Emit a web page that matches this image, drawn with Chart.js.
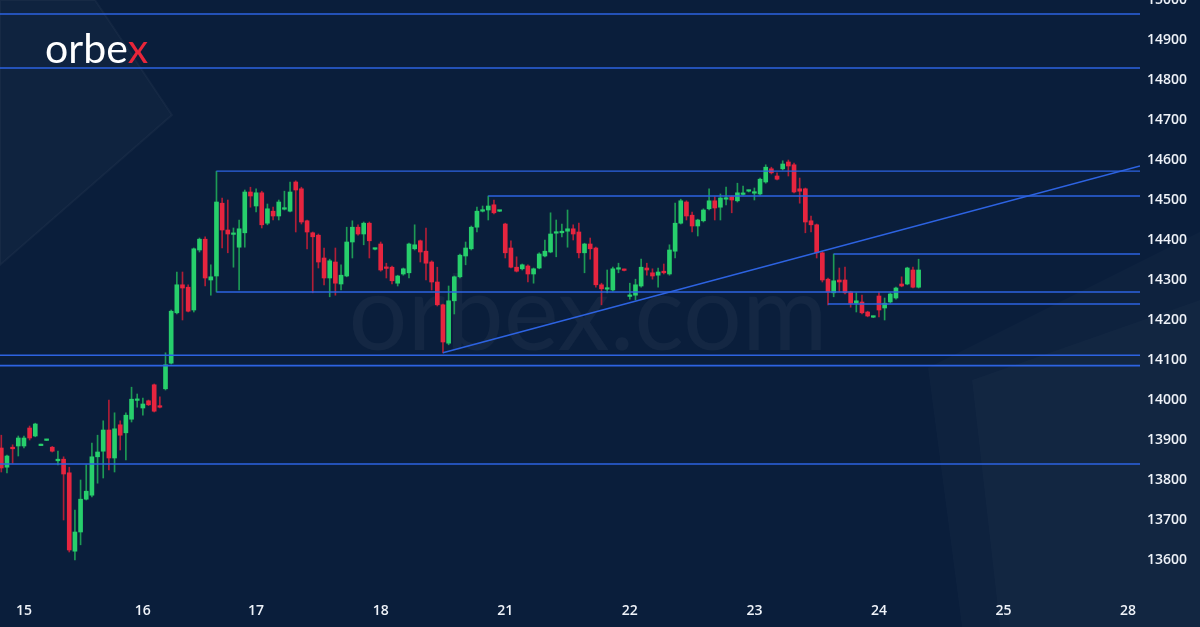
<!DOCTYPE html>
<html>
<head>
<meta charset="utf-8">
<script src="https://cdn.jsdelivr.net/npm/chart.js@4.4.1/dist/chart.umd.min.js"></script>
<title>orbex hourly</title>
<style>
  html, body { margin: 0; padding: 0; background: #0a1e3b; }
</style>
</head>
<body>
<canvas id="chart" width="1200" height="627"></canvas>
<script>
// hourly candles, index 0..162 (22 per session)
const opens = [13880,13832,13882,13885,13885,13930,13910,13886,13899,13882,13848,13852,13818,13622,13670,13752,13762,13858,13872,13925,
  13855,13938,13918,13952,13999,13980,13998,14038,13985,14028,14092,14218,14288,14282,14225,14375,14402,14300,14310,14492,
  14425,14414,14382,14418,14520,14485,14518,14442,14472,14460,14477,14472,14545,14528,14448,14418,14412,14355,14305,14345,
  14290,14310,14395,14432,14415,14442,14377,14390,14331,14332,14292,14315,14318,14378,14398,14372,14345,14295,14238,14142,
  14248,14308,14360,14378,14432,14472,14475,14488,14472,14440,14380,14332,14328,14335,14315,14330,14360,14370,14417,14418,
  14422,14428,14420,14368,14390,14380,14288,14277,14275,14327,14326,14259,14262,14285,14330,14318,14312,14322,14315,14372,
  14442,14495,14462,14435,14448,14478,14498,14482,14502,14508,14498,14514,14522,14517,14515,14545,14578,14560,14578,14595,
  14588,14528,14528,14448,14438,14368,14302,14268,14300,14300,14270,14242,14245,14220,14207,14260,14230,14245,14255,14290,
  14290,14325,14282];
const highs = [13912,13862,13888,13910,13910,13935,13942,13890,13902,13884,13872,13858,13832,13725,13800,13838,13892,13912,13948,14000,
  13968,13948,13968,14032,14015,14005,14000,14040,14008,14118,14225,14320,14320,14288,14380,14405,14408,14338,14572,14505,
  14500,14430,14450,14525,14532,14528,14522,14490,14482,14500,14522,14545,14548,14532,14450,14420,14415,14380,14352,14380,
  14338,14432,14448,14438,14445,14445,14380,14395,14342,14335,14312,14330,14392,14438,14400,14430,14348,14332,14240,14285,
  14310,14365,14395,14435,14482,14485,14510,14500,14474,14442,14398,14358,14340,14338,14330,14368,14400,14468,14450,14440,
  14475,14438,14442,14392,14405,14382,14292,14325,14332,14342,14327,14292,14302,14352,14342,14328,14330,14340,14388,14492,
  14502,14498,14470,14452,14478,14528,14508,14515,14532,14510,14542,14535,14525,14530,14555,14588,14582,14568,14598,14600,
  14592,14555,14530,14460,14440,14372,14305,14365,14330,14332,14272,14268,14262,14222,14210,14270,14255,14268,14282,14308,
  14332,14332,14352];
const lows = [13820,13818,13842,13860,13880,13900,13908,13886,13899,13870,13838,13700,13620,13600,13638,13750,13758,13792,13805,13825,
  13820,13875,13850,13945,13982,13962,13986,13970,13980,14025,14090,14215,14200,14220,14220,14370,14285,14262,14270,14380,
  14368,14332,14275,14382,14482,14470,14430,14438,14450,14450,14475,14470,14420,14440,14378,14268,14330,14288,14258,14262,
  14275,14308,14355,14412,14388,14355,14375,14322,14305,14290,14285,14312,14305,14375,14345,14300,14275,14235,14118,14138,
  14215,14305,14338,14375,14420,14470,14450,14465,14471,14355,14330,14320,14325,14295,14292,14328,14358,14368,14358,14408,
  14382,14400,14355,14318,14352,14282,14238,14268,14272,14318,14323,14252,14250,14282,14312,14302,14282,14315,14312,14355,
  14440,14450,14420,14410,14445,14475,14450,14450,14488,14468,14495,14512,14520,14500,14512,14542,14565,14550,14575,14560,
  14518,14492,14418,14420,14355,14295,14238,14258,14270,14265,14232,14220,14215,14208,14206,14208,14200,14242,14252,14283,
  14288,14280,14280];
const closes = [13830,13860,13878,13905,13905,13905,13940,13888,13901,13872,13852,13815,13625,13670,13752,13772,13858,13870,13925,13855,
  13928,13912,13962,14002,14001,13990,13988,13972,13982,14088,14222,14288,14280,14222,14378,14402,14305,14308,14495,14425,
  14415,14416,14428,14520,14510,14518,14438,14478,14460,14495,14478,14520,14525,14445,14420,14408,14345,14305,14348,14292,
  14312,14395,14432,14415,14442,14398,14378,14325,14329,14298,14310,14328,14390,14388,14370,14342,14295,14238,14145,14248,
  14308,14362,14380,14432,14472,14473,14485,14468,14473,14368,14332,14322,14338,14315,14328,14365,14372,14415,14418,14422,
  14428,14415,14368,14390,14378,14288,14278,14278,14328,14328,14324,14261,14288,14332,14325,14310,14320,14318,14375,14442,
  14498,14460,14435,14450,14475,14498,14480,14505,14503,14500,14518,14515,14523,14518,14552,14582,14568,14552,14590,14585,
  14520,14522,14445,14438,14368,14300,14270,14298,14295,14268,14242,14248,14218,14210,14208,14225,14242,14265,14280,14285,
  14330,14282,14325];

// x axis day labels and the candle index where each sits
const dayLabels = ['15','16','17','18','21','22','23','24','25','28'];
const dayTickIdx = [4, 25, 45, 67, 89, 111, 133, 155, 177, 199];

// price axis labels
const priceTicks = [13600,13700,13800,13900,14000,14100,14200,14300,14400,14500,14600,14700,14800,14900,15000];

// drawn levels: price and the candle index they start from (-1 = whole width)
const levelPrices = [14965, 14830, 14572, 14510, 14365, 14270, 14240, 14112, 14086, 13840];
const levelStart  = [-1, -1, 38, 86, 147, 38, 146, -1, -1, -1];

// rising trend line
const trendIdx = [78, 201.1];
const trendPrices = [14118, 14585];

const X_MIN = -0.23, X_MAX = 201.1;
const UP = '#27cf6c', DOWN = '#e6253f';
const UP_WICK = '#1d9a55', DOWN_WICK = '#b01e36';
const LINE_BLUE = '#2d63e2';

const isUp = opens.map((o, i) => closes[i] >= o);

const bodies = opens.map((o, i) => ({ x: i, y: [o, closes[i]] }));
const wicks = lows.map((l, i) => ({ x: i, y: [l, highs[i]] }));

const levelSets = levelPrices.map((p, k) => ({
  type: 'line',
  data: [{ x: levelStart[k], y: p }, { x: X_MAX + 1, y: p }],
  borderColor: LINE_BLUE,
  borderWidth: (levelStart[k] < 0) ? 1.6 : 1.3,
  pointRadius: 0,
  order: 0
}));

const bgPlugin = {
  id: 'bg',
  beforeDraw(chart) {
    const c = chart.ctx;
    c.save();
    c.fillStyle = '#0a1e3b';
    c.fillRect(0, 0, chart.width, chart.height);

    // faint decorative shapes
    c.fillStyle = 'rgba(255,255,255,0.022)';
    c.beginPath();
    c.moveTo(0, 0); c.lineTo(95, 0); c.lineTo(172, 115); c.lineTo(0, 265); c.closePath();
    c.fill();
    c.strokeStyle = 'rgba(255,255,255,0.035)';
    c.lineWidth = 2;
    c.stroke();

    c.fillStyle = 'rgba(255,255,255,0.02)';
    c.beginPath();
    c.moveTo(928, 368); c.lineTo(1200, 232); c.lineTo(1200, 627); c.lineTo(962, 627); c.closePath();
    c.fill();
    c.beginPath();
    c.moveTo(972, 380); c.lineTo(1200, 300); c.lineTo(1200, 627); c.lineTo(1000, 627); c.closePath();
    c.fill();

    // watermark
    c.fillStyle = 'rgba(255,255,255,0.045)';
    c.font = '400 104px Lato, "Open Sans", sans-serif';
    c.textAlign = 'center';
    c.textBaseline = 'alphabetic';
    c.fillText('orbex.com', 588, 350);

    // logo
    c.font = '400 41px Lato, "Open Sans", sans-serif';
    c.textAlign = 'left';
    c.fillStyle = '#ffffff';
    c.fillText('orbe', 45, 63);
    const w = c.measureText('orbe').width;
    c.fillStyle = '#e8263a';
    c.fillText('x', 45 + w, 63);
    c.restore();
  }
};

new Chart(document.getElementById('chart'), {
  type: 'bar',
  data: {
    datasets: [
      ...levelSets,
      {
        type: 'line',
        data: trendIdx.map((x, k) => ({ x: x, y: trendPrices[k] })),
        borderColor: LINE_BLUE,
        borderWidth: 1.5,
        pointRadius: 0,
        order: 0
      },
      {
        data: bodies,
        backgroundColor: isUp.map(u => u ? UP : DOWN),
        barThickness: 4,
        minBarLength: 1.5,
        grouped: false,
        order: 1
      },
      {
        data: wicks,
        backgroundColor: isUp.map(u => u ? UP_WICK : DOWN_WICK),
        barThickness: 1,
        grouped: false,
        order: 2
      }
    ]
  },
  options: {
    responsive: false,
    animation: false,
    events: [],
    layout: { padding: 0 },
    plugins: { legend: { display: false }, tooltip: { enabled: false } },
    scales: {
      x: {
        type: 'linear',
        offset: false,
        min: X_MIN,
        max: X_MAX,
        grid: { display: false, drawTicks: false },
        border: { display: false },
        afterBuildTicks: axis => { axis.ticks = dayTickIdx.map(v => ({ value: v })); },
        afterFit: s => { s.height = 29; s.paddingLeft = 0; s.paddingRight = 0; },
        ticks: {
          autoSkip: false,
          maxRotation: 0,
          padding: 5,
          color: '#eef2f8',
          font: { family: '"Open Sans", sans-serif', size: 14, weight: '600' },
          callback: v => dayLabels[dayTickIdx.indexOf(v)]
        }
      },
      y: {
        position: 'right',
        min: 13505,
        max: 15000,
        grid: { display: false, drawTicks: false },
        border: { display: false },
        afterBuildTicks: axis => { axis.ticks = priceTicks.map(v => ({ value: v })); },
        afterFit: s => { s.width = 60; s.paddingTop = 0; s.paddingBottom = 0; },
        ticks: {
          autoSkip: false,
          padding: 7,
          color: '#eef2f8',
          font: { family: '"Open Sans", sans-serif', size: 14, weight: '600' },
          callback: v => String(v)
        }
      }
    }
  },
  plugins: [bgPlugin]
});
</script>
</body>
</html>
